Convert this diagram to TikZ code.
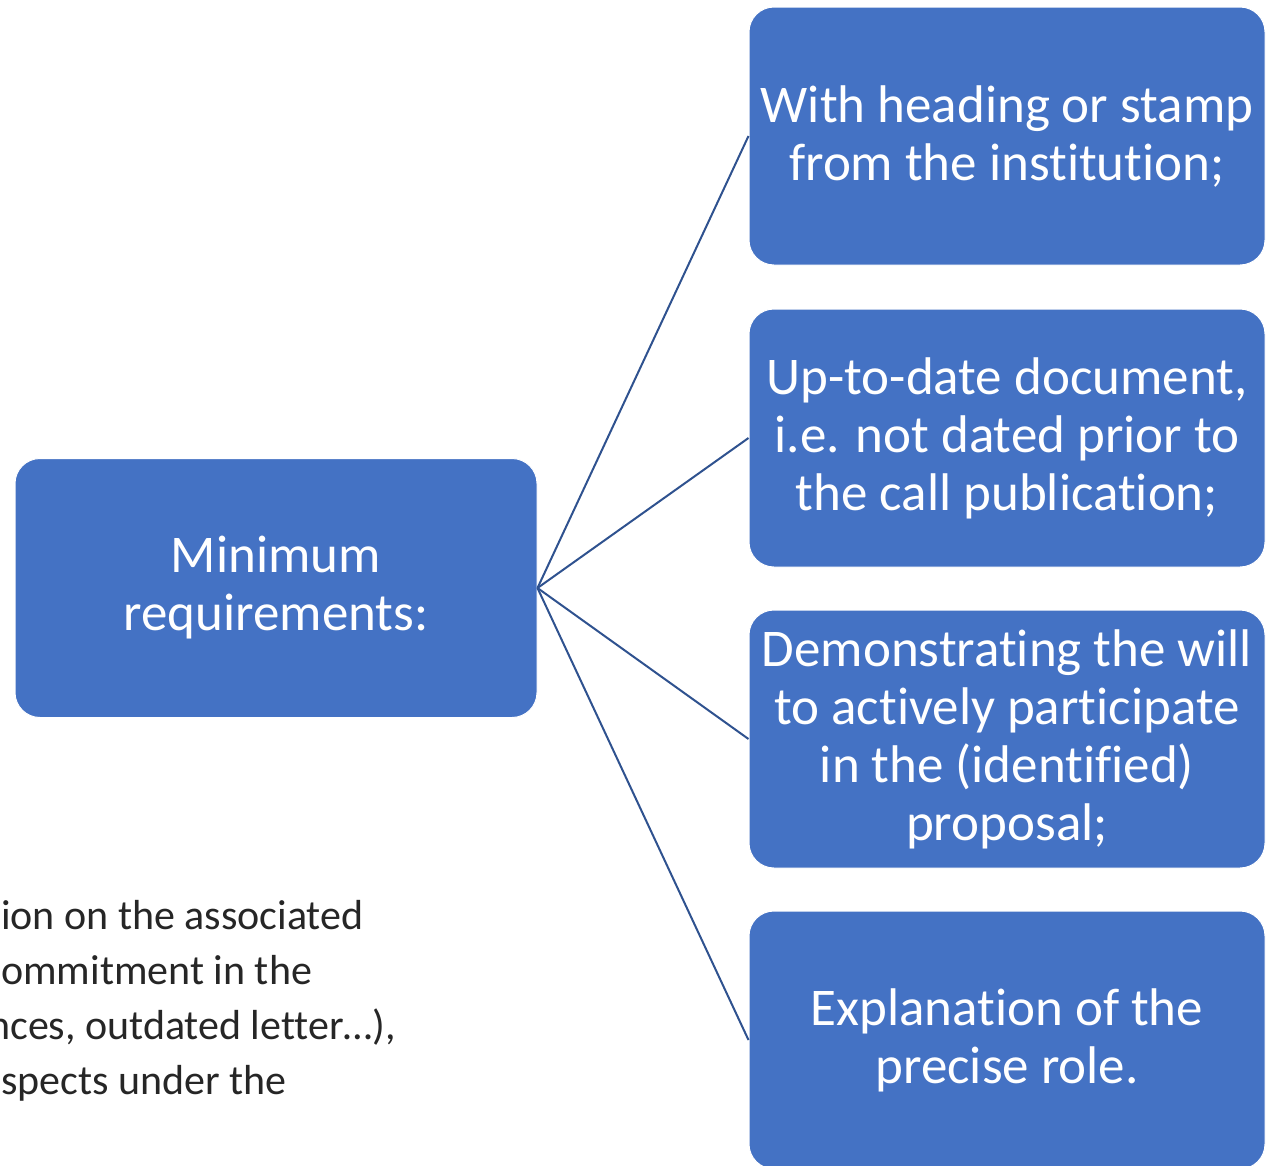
\documentclass[tikz,border=0pt]{standalone}
\usepackage{fontspec}
\setmainfont{Carlito}[Ligatures=NoCommon]
\usepackage{tikz}
\usetikzlibrary{positioning}
\definecolor{boxblue}{HTML}{4472C4}
\definecolor{edgeblue}{HTML}{2F528F}
\tikzset{
    reqnode/.style = {rectangle, rounded corners=25pt, draw=white, line width=1pt, fill=boxblue, text=white, align=center, inner sep=0pt, minimum width=522pt, minimum height=259pt, font=\fontsize{53}{58}\selectfont},
    itemnode/.style = {reqnode, minimum width=516pt, minimum height=258pt},
    notenode/.style = {align=left, inner sep=0pt, text=black!85, font=\fontsize{42}{55}\selectfont},
    edgeb/.style = {line width=2pt, edgeblue}
}
\begin{document}
\begin{tikzpicture}[x=1pt,y=-1pt]
\useasboundingbox (0,0) rectangle (1266,1165);
%
\node[reqnode] at (276,588) (minreq) {Minimum\\requirements:};
\node[itemnode] at (1007,136) (stamp) {With heading or stamp\\from the institution;};
\node[itemnode] at (1007,438) (update) {Up-to-date document,\\i.e. not dated prior to\\the call publication;};
\node[itemnode] at (1007,739) (will) {Demonstrating the will\\to actively participate\\in the (identified)\\proposal;};
\node[itemnode] at (1007,1040) (role) {Explanation of the\\precise role.};
%
\draw[edgeb] (minreq.east) -- (stamp.west);
\draw[edgeb] (minreq.east) -- (update.west);
\draw[edgeb] (minreq.east) -- (will.west);
\draw[edgeb] (minreq.east) -- (role.west);
%
\node[notenode,anchor=base west] at (1,1094) (note) {ion on the associated\\ommitment in the\\\hspace*{-13pt}nces, outdated letter…),\\spects under the};
\end{tikzpicture}
\end{document}
